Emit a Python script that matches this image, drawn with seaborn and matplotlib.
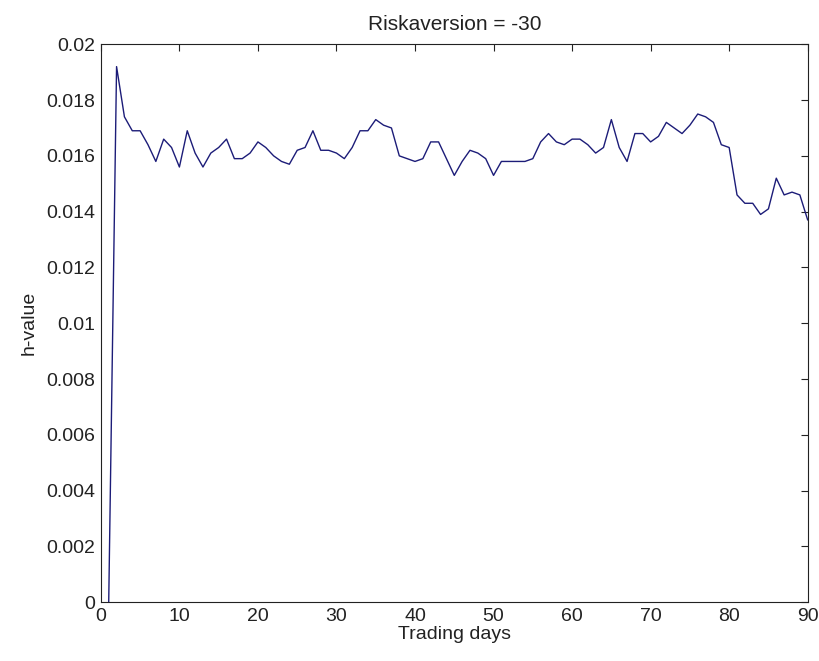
import matplotlib
matplotlib.use("Agg")
import matplotlib.pyplot as plt
import seaborn as sns
import pandas as pd
import numpy as np

days = list(range(1, 91))
h_values = [
    0.0, 0.0192, 0.0174, 0.0169, 0.0169, 0.0164, 0.0158, 0.0166, 0.0163, 0.0156,
    0.0169, 0.0161, 0.0156, 0.0161, 0.0163, 0.0166, 0.0159, 0.0159, 0.0161, 0.0165,
    0.0163, 0.0160, 0.0158, 0.0157, 0.0162, 0.0163, 0.0169, 0.0162, 0.0162, 0.0161,
    0.0159, 0.0163, 0.0169, 0.0169, 0.0173, 0.0171, 0.0170, 0.0160, 0.0159, 0.0158,
    0.0159, 0.0165, 0.0165, 0.0159, 0.0153, 0.0158, 0.0162, 0.0161, 0.0159, 0.0153,
    0.0158, 0.0158, 0.0158, 0.0158, 0.0159, 0.0165, 0.0168, 0.0165, 0.0164, 0.0166,
    0.0166, 0.0164, 0.0161, 0.0163, 0.0173, 0.0163, 0.0158, 0.0168, 0.0168, 0.0165,
    0.0167, 0.0172, 0.0170, 0.0168, 0.0171, 0.0175, 0.0174, 0.0172, 0.0164, 0.0163,
    0.0146, 0.0143, 0.0143, 0.0139, 0.0141, 0.0152, 0.0146, 0.0147, 0.0146, 0.0137,
]
x_ticks = [0, 10, 20, 30, 40, 50, 60, 70, 80, 90]
y_ticks = [0, 0.002, 0.004, 0.006, 0.008, 0.01, 0.012, 0.014, 0.016, 0.018, 0.02]
y_tick_labels = ["0", "0.002", "0.004", "0.006", "0.008", "0.01", "0.012",
                 "0.014", "0.016", "0.018", "0.02"]

sns.set_style("white")
plt.rcParams['font.family'] = ['Liberation Sans', 'DejaVu Sans']

df = pd.DataFrame({"day": days, "h": h_values})

fig = plt.figure(figsize=(8.2, 6.61), dpi=100)
ax = fig.add_axes([0.123, 0.089, 0.862, 0.844])
sns.lineplot(data=df, x="day", y="h", ax=ax, color="#1c1c78", linewidth=1.0)

ax.set_xlim(0, 90)
ax.set_ylim(0, 0.02)
ax.set_xticks(x_ticks)
ax.set_yticks(y_ticks)
ax.set_yticklabels(y_tick_labels)
ax.tick_params(direction="in", top=True, right=True, length=5, width=0.8,
               labelsize=14, colors="#222222", pad=4)
for s in ax.spines.values():
    s.set_visible(True)
    s.set_color("#222222")
    s.set_linewidth(0.8)
ax.set_xlabel("Trading days", fontsize=14, labelpad=1, color="#222222")
ax.set_ylabel("h-value", fontsize=14, labelpad=6, color="#222222")
ax.set_title("Riskaversion = -30", fontsize=15, pad=10, color="#222222")

fig.savefig("out.png", dpi=100)
